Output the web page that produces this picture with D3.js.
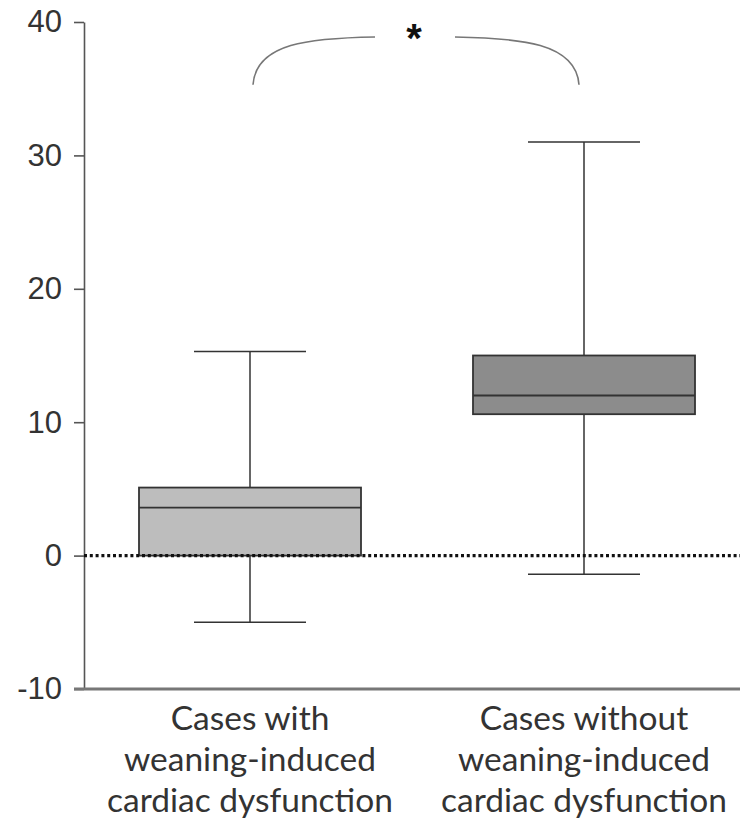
<!DOCTYPE html>
<html>
<head>
<meta charset="utf-8">
<script src="https://cdn.jsdelivr.net/npm/d3@7"></script>
<style>
  body { margin: 0; background: #fff; }
</style>
</head>
<body>
<script>
// data
var groups = ["with", "without"];
var groupLabels = [
    ["Cases with", "weaning-induced", "cardiac dysfunction"],
    ["Cases without", "weaning-induced", "cardiac dysfunction"]
];
var whiskerLow = [-5.0, -1.4];
var q1 = [0.0, 10.6];
var medians = [3.6, 12.0];
var q3 = [5.1, 15.0];
var whiskerHigh = [15.3, 31.0];
var boxFills = ["#bdbdbd", "#8c8c8c"];
var yTicks = [-10, 0, 10, 20, 30, 40];

var width = 740, height = 823;
var margin = { top: 22, right: 0, bottom: 134, left: 84 };

var svg = d3.select("body")
    .append("svg")
    .attr("width", width)
    .attr("height", height);

var y = d3.scaleLinear()
    .domain([-10, 40])
    .range([height - margin.bottom, margin.top]);

var x = d3.scalePoint()
    .domain(groups)
    .range([250, 584]);

var boxHalf = 111, capHalf = 56;

// y axis
var yAxis = svg.append("g")
    .attr("transform", `translate(${margin.left},0)`)
    .call(d3.axisLeft(y).tickValues(yTicks).tickFormat(d => String(d))
        .tickSize(10).tickSizeOuter(0).tickPadding(12));
yAxis.select(".domain").attr("stroke", "#555").attr("stroke-width", 1.6);
yAxis.selectAll(".tick line").attr("stroke", "#555").attr("stroke-width", 1.6);
yAxis.selectAll(".tick text")
    .attr("font-family", "Liberation Sans, Arial, sans-serif")
    .attr("font-size", 31)
    .attr("fill", "#333");

// x axis line at the bottom
svg.append("line")
    .attr("x1", margin.left - 10)
    .attr("x2", width)
    .attr("y1", y(-10))
    .attr("y2", y(-10))
    .attr("stroke", "#777")
    .attr("stroke-width", 3);

// whiskers
var g = svg.append("g").selectAll("g")
    .data(groups)
    .join("g");

g.append("line")
    .attr("x1", d => x(d)).attr("x2", d => x(d))
    .attr("y1", (d, i) => y(whiskerLow[i]))
    .attr("y2", (d, i) => y(whiskerHigh[i]))
    .attr("stroke", "#333")
    .attr("stroke-width", 1.5);

g.selectAll(".cap")
    .data((d, i) => [whiskerLow[i], whiskerHigh[i]].map(v => ({ d: d, v: v })))
    .join("line")
    .attr("class", "cap")
    .attr("x1", c => x(c.d) - capHalf)
    .attr("x2", c => x(c.d) + capHalf)
    .attr("y1", c => y(c.v))
    .attr("y2", c => y(c.v))
    .attr("stroke", "#333")
    .attr("stroke-width", 1.5);

// boxes
g.append("rect")
    .attr("x", d => x(d) - boxHalf)
    .attr("width", boxHalf * 2)
    .attr("y", (d, i) => y(q3[i]))
    .attr("height", (d, i) => y(q1[i]) - y(q3[i]))
    .attr("fill", (d, i) => boxFills[i])
    .attr("stroke", "#333")
    .attr("stroke-width", 1.8);

g.append("line")
    .attr("x1", d => x(d) - boxHalf)
    .attr("x2", d => x(d) + boxHalf)
    .attr("y1", (d, i) => y(medians[i]))
    .attr("y2", (d, i) => y(medians[i]))
    .attr("stroke", "#333")
    .attr("stroke-width", 1.8);

// dotted zero line
svg.append("line")
    .attr("x1", margin.left)
    .attr("x2", width)
    .attr("y1", y(0))
    .attr("y2", y(0))
    .attr("stroke", "#111")
    .attr("stroke-width", 3.2)
    .attr("stroke-dasharray", "3,2.8");

// category labels
var labels = svg.append("g").selectAll("text")
    .data(groups)
    .join("text")
    .attr("text-anchor", "middle")
    .attr("font-family", "Lato, Open Sans, sans-serif")
    .attr("font-size", 33.5)
    .attr("fill", "#333");
labels.selectAll("tspan")
    .data((d, i) => groupLabels[i].map(t => ({ d: d, t: t })))
    .join("tspan")
    .attr("x", c => x(c.d))
    .attr("y", (c, j) => y(-10) + 41 + j * 41)
    .text(c => c.t);

// significance bracket
var bx0 = x(groups[0]), bx1 = x(groups[1]);
var bTop = y(38.8), bBot = y(35.3);
svg.append("path")
    .attr("d", `M${bx0 + 3},${bBot} C${bx0 + 6},${bTop + 5} ${bx0 + 60},${bTop} ${bx0 + 125},${bTop - 1}`)
    .attr("fill", "none")
    .attr("stroke", "#777")
    .attr("stroke-width", 1.6);
svg.append("path")
    .attr("d", `M${bx1 - 129},${bTop - 1} C${bx1 - 64},${bTop} ${bx1 - 8},${bTop + 5} ${bx1 - 5},${bBot}`)
    .attr("fill", "none")
    .attr("stroke", "#777")
    .attr("stroke-width", 1.6);
svg.append("text")
    .attr("x", (bx0 + bx1) / 2 - 3)
    .attr("y", y(40) + 30)
    .attr("text-anchor", "middle")
    .attr("font-family", "Liberation Sans, Arial, sans-serif")
    .attr("font-weight", "bold")
    .attr("font-size", 40)
    .attr("fill", "#111")
    .text("*");
</script>
</body>
</html>
